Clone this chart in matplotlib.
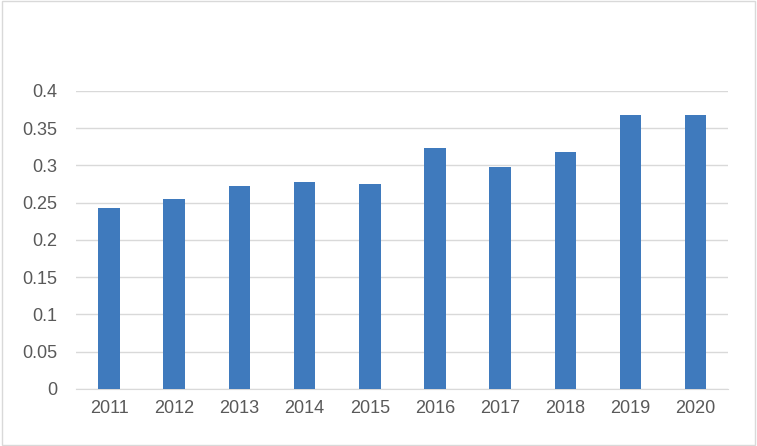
import matplotlib
matplotlib.use("Agg")
import matplotlib.pyplot as plt
from matplotlib.patches import Rectangle

years = ["2011","2012","2013","2014","2015","2016","2017","2018","2019","2020"]
values = [0.243,0.255,0.272,0.278,0.275,0.323,0.298,0.318,0.368,0.368]
yticks = [0,0.05,0.1,0.15,0.2,0.25,0.3,0.35,0.4]
ylabels = ["0","0.05","0.1","0.15","0.2","0.25","0.3","0.35","0.4"]

plt.rcParams['font.family'] = ['Liberation Sans','DejaVu Sans']
fig = plt.figure(figsize=(7.57,4.46), dpi=100)
fig.patches.append(Rectangle((0.002,0.003),0.996,0.994,transform=fig.transFigure,fill=False,edgecolor='#d9d9d9',lw=1))
ax = fig.add_axes([0.101,0.128,0.861,0.668])
x = range(len(years))
ax.bar(x, values, width=0.33, color='#3f7abd', zorder=3)
ax.set_ylim(0,0.4)
ax.set_xlim(-0.5,len(years)-0.5)
ax.set_yticks(yticks)
ax.set_yticklabels(ylabels)
ax.set_xticks(list(x))
ax.set_xticklabels(years)
ax.yaxis.grid(True,color='#d9d9d9',lw=1,zorder=0)
for s in ['top','right','left']:
    ax.spines[s].set_visible(False)
ax.spines['bottom'].set_color('#d9d9d9')
ax.tick_params(axis='both',length=0,labelsize=13,colors='#595959',pad=8)
ax.tick_params(axis='y',pad=14)
fig.savefig("out.png",dpi=100)
